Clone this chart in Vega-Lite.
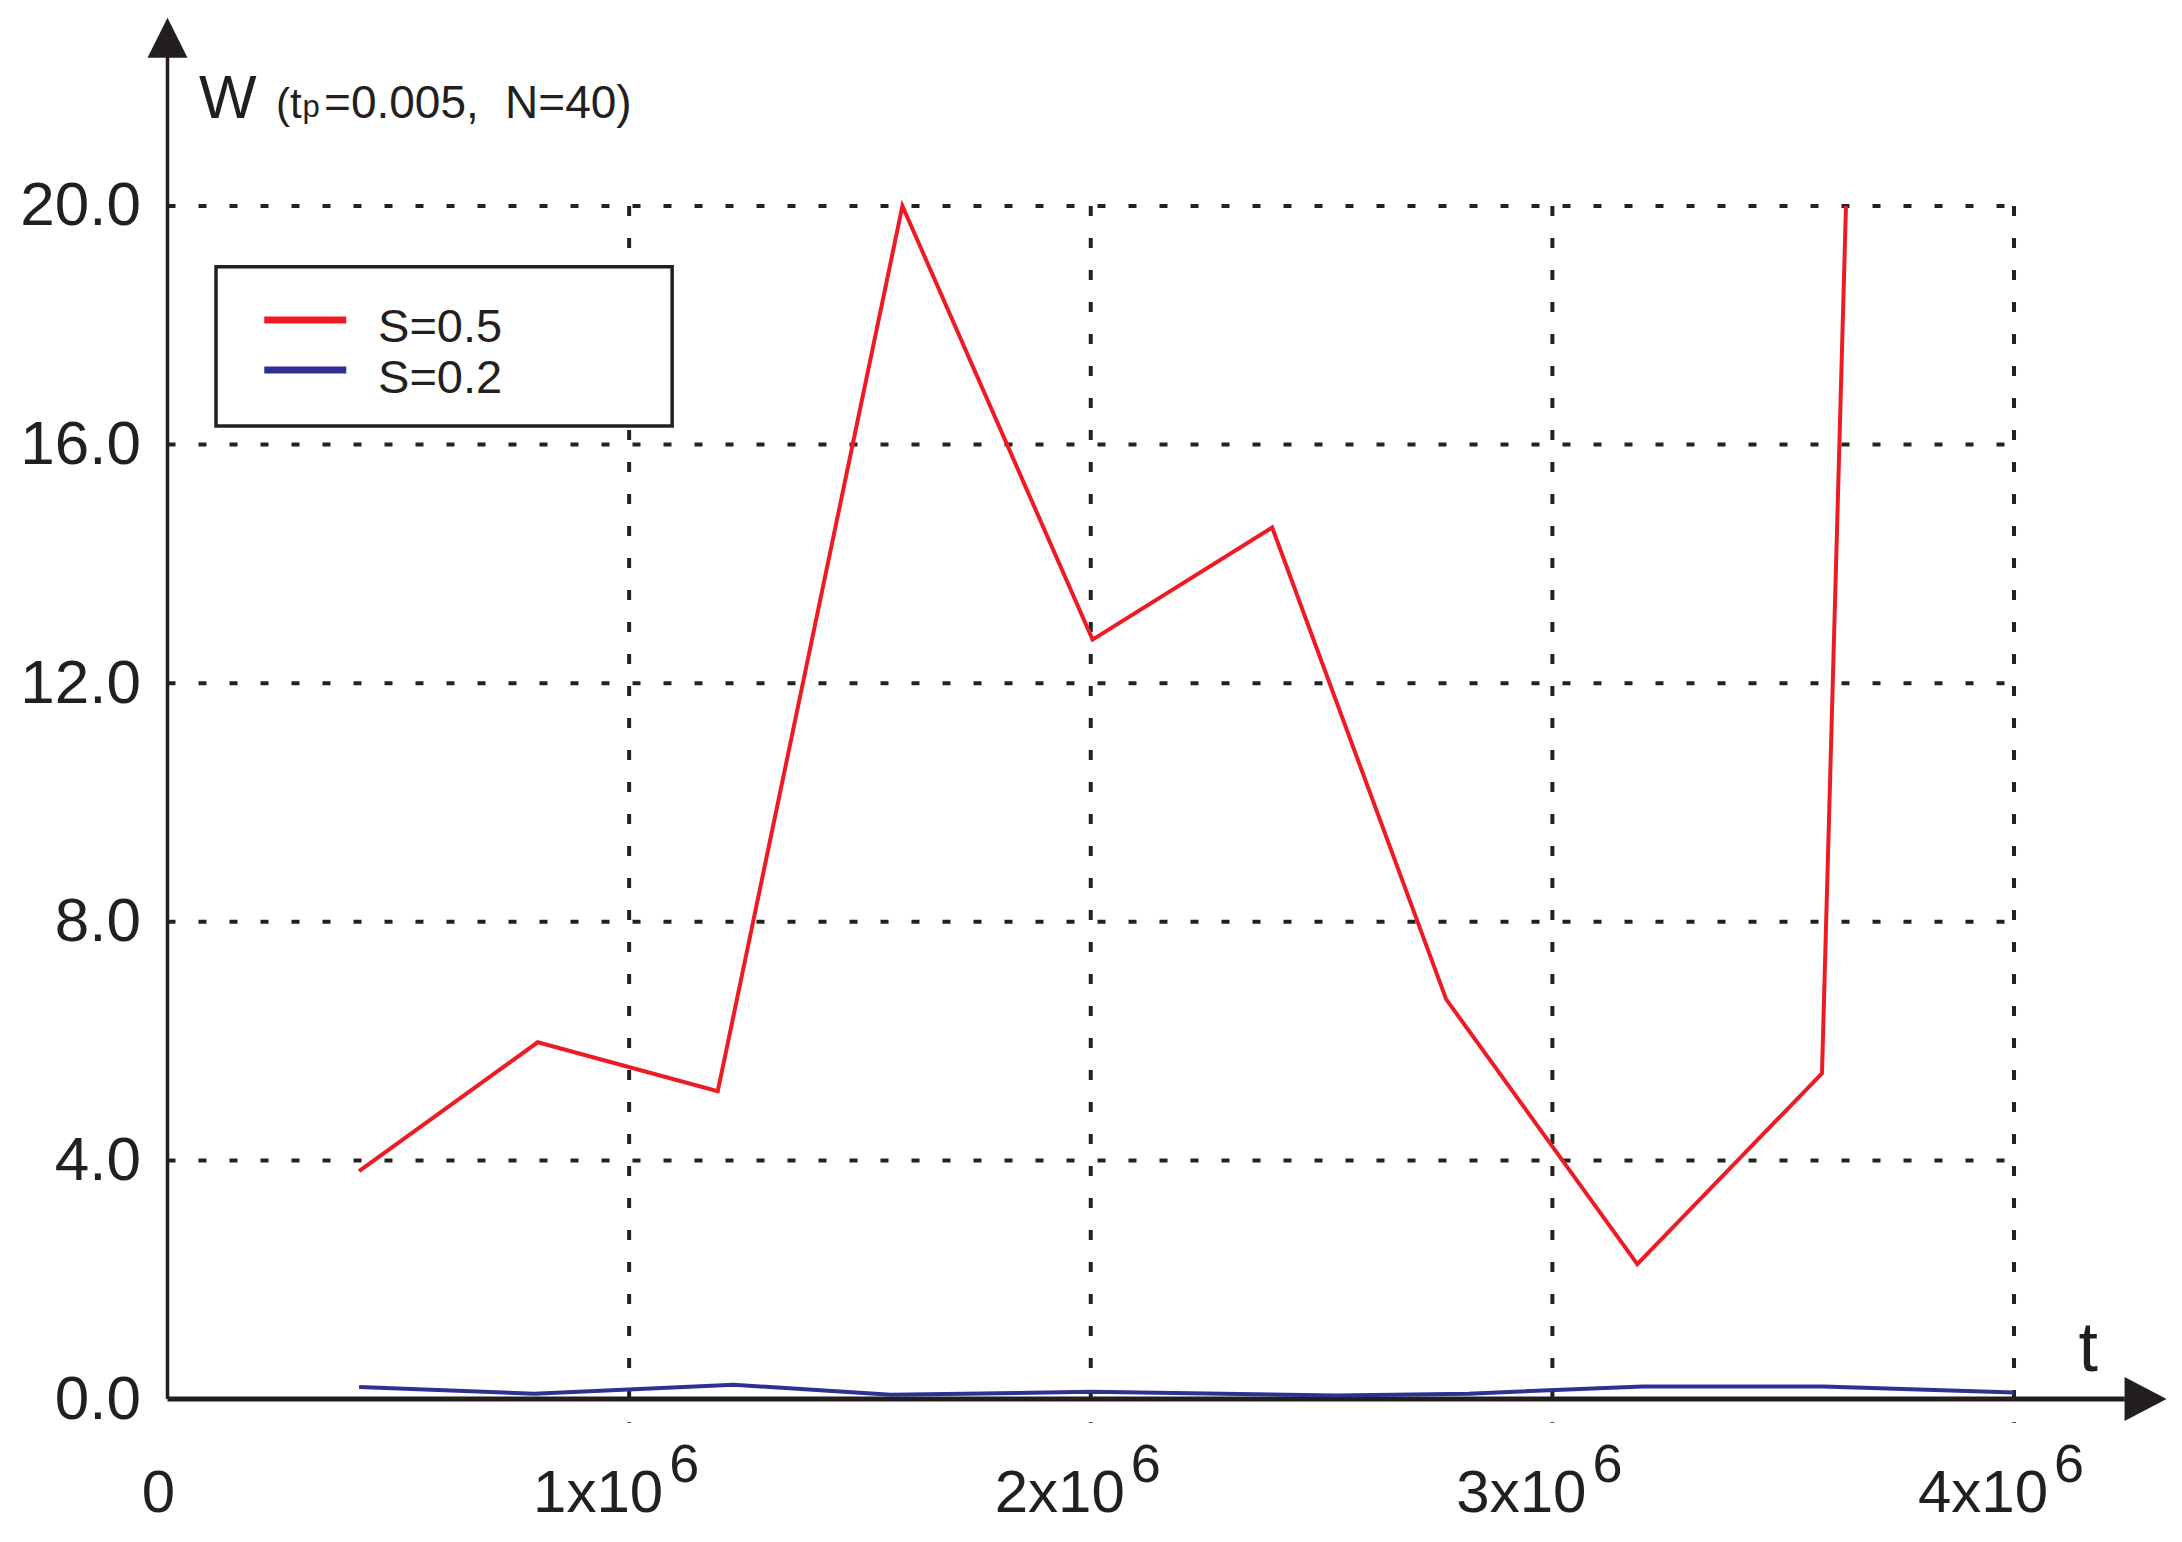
{
  "$schema": "https://vega.github.io/schema/vega-lite/v6.json",
  "autosize": {"type": "none"},
  "width": 1985,
  "height": 1372,
  "padding": {"left": 167.5, "top": 27, "right": 30, "bottom": 143},
  "background": "white",
  "config": {"view": {"stroke": null}, "text": {"font": "Liberation Sans", "color": "#231f20"}},
  "layer": [
    {
      "data": {"values": [{"W": 4}, {"W": 8}, {"W": 12}, {"W": 16}, {"W": 20}]},
      "mark": {"type": "rule", "stroke": "#222222", "strokeWidth": 4, "strokeDash": [8, 23]},
      "encoding": {
        "y": {"field": "W", "type": "quantitative",
              "scale": {"domain": [0, 23], "nice": false, "zero": false},
              "axis": {"values": [0, 4, 8, 12, 16, 20], "format": ".1f", "domain": false, "ticks": false, "grid": false,
                       "labelFont": "Liberation Sans", "labelFontSize": 62, "labelColor": "#231f20", "labelPadding": 27, "title": null}},
        "x": {"datum": 0, "type": "quantitative", "scale": {"domain": [0, 4300000], "nice": false, "zero": false}, "axis": null},
        "x2": {"datum": 4000000}
      }
    },
    {
      "data": {"values": [{"t": 1000000}, {"t": 2000000}, {"t": 3000000}, {"t": 4000000}]},
      "mark": {"type": "rule", "stroke": "#222222", "strokeWidth": 4, "strokeDash": [10, 22]},
      "encoding": {
        "x": {"field": "t", "type": "quantitative"},
        "y": {"datum": 20, "type": "quantitative"},
        "y2": {"datum": -0.4}
      }
    },
    {
      "data": {"values": [{}]},
      "mark": {"type": "rule", "stroke": "#231f20", "strokeWidth": 3.5},
      "encoding": {
        "x": {"datum": 0, "type": "quantitative"},
        "y": {"datum": 0, "type": "quantitative"},
        "y2": {"datum": 22.5}
      }
    },
    {
      "data": {"values": [{}]},
      "mark": {"type": "rule", "stroke": "#231f20", "strokeWidth": 5},
      "encoding": {
        "y": {"datum": 0, "type": "quantitative"},
        "x": {"datum": 0, "type": "quantitative"},
        "x2": {"datum": 4240000}
      }
    },
    {
      "data": {"values": [{}]},
      "mark": {"type": "point", "shape": "M-1,-1.05L1,0L-1,1.05Z", "filled": true, "fill": "#231f20", "stroke": null, "size": 1764, "opacity": 1},
      "encoding": {
        "x": {"datum": 4285000, "type": "quantitative"},
        "y": {"datum": 0, "type": "quantitative"}
      }
    },
    {
      "data": {"values": [{}]},
      "mark": {"type": "point", "shape": "M-1,1L0,-1L1,1Z", "filled": true, "fill": "#231f20", "stroke": null, "size": 1600, "opacity": 1},
      "encoding": {
        "x": {"datum": 0, "type": "quantitative"},
        "y": {"datum": 22.82, "type": "quantitative"}
      }
    },
    {
      "data": {"values": [
        {"S": "S=0.5", "t": 415000, "W": 3.82},
        {"S": "S=0.5", "t": 802000, "W": 5.98},
        {"S": "S=0.5", "t": 1192000, "W": 5.16},
        {"S": "S=0.5", "t": 1592000, "W": 20.0},
        {"S": "S=0.5", "t": 2004000, "W": 12.73},
        {"S": "S=0.5", "t": 2393000, "W": 14.61},
        {"S": "S=0.5", "t": 2770000, "W": 6.70},
        {"S": "S=0.5", "t": 3184000, "W": 2.26},
        {"S": "S=0.5", "t": 3584000, "W": 5.46},
        {"S": "S=0.5", "t": 3636000, "W": 20.0},
        {"S": "S=0.2", "t": 415000, "W": 0.20},
        {"S": "S=0.2", "t": 794000, "W": 0.09},
        {"S": "S=0.2", "t": 1226000, "W": 0.24},
        {"S": "S=0.2", "t": 1567000, "W": 0.07},
        {"S": "S=0.2", "t": 2001000, "W": 0.12},
        {"S": "S=0.2", "t": 2532000, "W": 0.06},
        {"S": "S=0.2", "t": 2818000, "W": 0.09},
        {"S": "S=0.2", "t": 3195000, "W": 0.21},
        {"S": "S=0.2", "t": 3587000, "W": 0.21},
        {"S": "S=0.2", "t": 4000000, "W": 0.11}
      ]},
      "mark": {"type": "line", "strokeWidth": 4},
      "encoding": {
        "x": {"field": "t", "type": "quantitative"},
        "y": {"field": "W", "type": "quantitative"},
        "color": {"field": "S", "type": "nominal",
                  "scale": {"domain": ["S=0.5", "S=0.2"], "range": ["#ed1c24", "#2e3192"]},
                  "legend": null}
      }
    },
    {
      "data": {"values": [{}]},
      "mark": {"type": "rect", "fill": "white", "stroke": "#231f20", "strokeWidth": 3.5},
      "encoding": {
        "x": {"datum": 105100, "type": "quantitative"},
        "x2": {"datum": 1093200},
        "y": {"datum": 18.98, "type": "quantitative"},
        "y2": {"datum": 16.31}
      }
    },
    {
      "data": {"values": [{}]},
      "mark": {"type": "rule", "strokeWidth": 7},
      "encoding": {
        "x": {"datum": 209600, "type": "quantitative"},
        "x2": {"datum": 387300},
        "y": {"datum": 18.09, "type": "quantitative"},
        "color": {"datum": "S=0.5", "type": "nominal"}
      }
    },
    {
      "data": {"values": [{}]},
      "mark": {"type": "rule", "strokeWidth": 7},
      "encoding": {
        "x": {"datum": 209600, "type": "quantitative"},
        "x2": {"datum": 387300},
        "y": {"datum": 17.25, "type": "quantitative"},
        "color": {"datum": "S=0.2", "type": "nominal"}
      }
    },
    {
      "data": {"values": [{}]},
      "mark": {"type": "text", "text": "S=0.5", "fontSize": 47, "align": "left", "baseline": "alphabetic"},
      "encoding": {
        "x": {"datum": 456100, "type": "quantitative"},
        "y": {"datum": 17.72, "type": "quantitative"}
      }
    },
    {
      "data": {"values": [{}]},
      "mark": {"type": "text", "text": "S=0.2", "fontSize": 47, "align": "left", "baseline": "alphabetic"},
      "encoding": {
        "x": {"datum": 456100, "type": "quantitative"},
        "y": {"datum": 16.87, "type": "quantitative"}
      }
    },
    {
      "data": {"values": [{}]},
      "mark": {"type": "text", "text": "W", "fontSize": 61, "align": "left", "baseline": "alphabetic"},
      "encoding": {
        "x": {"datum": 68300, "type": "quantitative"},
        "y": {"datum": 21.475, "type": "quantitative"}
      }
    },
    {
      "data": {"values": [{}]},
      "mark": {"type": "text", "text": "(t", "fontSize": 42, "align": "left", "baseline": "alphabetic"},
      "encoding": {
        "x": {"datum": 235100, "type": "quantitative"},
        "y": {"datum": 21.475, "type": "quantitative"}
      }
    },
    {
      "data": {"values": [{}]},
      "mark": {"type": "text", "text": "p", "fontSize": 31, "align": "left", "baseline": "alphabetic"},
      "encoding": {
        "x": {"datum": 292500, "type": "quantitative"},
        "y": {"datum": 21.49, "type": "quantitative"}
      }
    },
    {
      "data": {"values": [{}]},
      "mark": {"type": "text", "text": "=0.005,", "fontSize": 46, "align": "left", "baseline": "alphabetic"},
      "encoding": {
        "x": {"datum": 339100, "type": "quantitative"},
        "y": {"datum": 21.475, "type": "quantitative"}
      }
    },
    {
      "data": {"values": [{}]},
      "mark": {"type": "text", "text": "N=40)", "fontSize": 46, "align": "left", "baseline": "alphabetic"},
      "encoding": {
        "x": {"datum": 731300, "type": "quantitative"},
        "y": {"datum": 21.475, "type": "quantitative"}
      }
    },
    {
      "data": {"values": [{}]},
      "mark": {"type": "text", "text": "t", "fontSize": 70, "align": "left", "baseline": "alphabetic"},
      "encoding": {
        "x": {"datum": 4139700, "type": "quantitative"},
        "y": {"datum": 0.47, "type": "quantitative"}
      }
    },
    {
      "data": {"values": [{"t": 0, "label": "0"}]},
      "mark": {"type": "text", "fontSize": 60, "align": "center", "baseline": "alphabetic", "dx": -9},
      "encoding": {
        "x": {"field": "t", "type": "quantitative"},
        "y": {"datum": -1.894, "type": "quantitative"},
        "text": {"field": "label"}
      }
    },
    {
      "data": {"values": [
        {"t": 1000000, "base": "1x10", "sup": "6"},
        {"t": 2000000, "base": "2x10", "sup": "6"},
        {"t": 3000000, "base": "3x10", "sup": "6"},
        {"t": 4000000, "base": "4x10", "sup": "6"}
      ]},
      "layer": [
        {
          "mark": {"type": "text", "fontSize": 60, "align": "right", "baseline": "alphabetic", "dx": 34},
          "encoding": {
            "x": {"field": "t", "type": "quantitative"},
            "y": {"datum": -1.894, "type": "quantitative"},
            "text": {"field": "base"}
          }
        },
        {
          "mark": {"type": "text", "fontSize": 54, "align": "left", "baseline": "alphabetic", "dx": 40},
          "encoding": {
            "x": {"field": "t", "type": "quantitative"},
            "y": {"datum": -1.39, "type": "quantitative"},
            "text": {"field": "sup"}
          }
        }
      ]
    }
  ]
}
